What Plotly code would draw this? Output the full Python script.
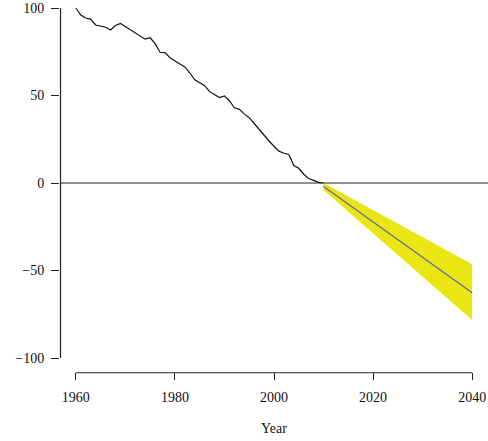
import plotly.graph_objects as go

# Historical series (1960-2010)
years = list(range(1960, 2011))
values = [100, 96, 94.3, 93.5, 90.3, 89.8, 89, 87.4, 90, 91.2,
          89.4, 87.6, 86, 84, 82.2, 83, 79.6, 74.7, 74.5, 71.6,
          70, 68, 66.3, 63, 59, 57.4, 55.6, 52.2, 50.4, 48.8,
          49.8, 47, 43, 42.1, 39.5, 37.3, 34, 30.5, 27, 24,
          21, 18.2, 17, 16.3, 10, 8.4, 5, 2.6, 1.5, 0.4, 0]

# Forecast (2010-2040)
fc_years = [2010, 2040]
fc_mean = [-2.0, -62.7]
fc_upper = [0.0, -46.5]
fc_lower = [-4.0, -78.3]

x_ticks = [1960, 1980, 2000, 2020, 2040]
y_ticks = [-100, -50, 0, 50, 100]

FONT = "Liberation Serif"
TXT = "#111111"

fig = go.Figure()
fig.add_trace(go.Scatter(x=fc_years, y=fc_lower, mode="lines",
                         line=dict(width=0, color="#E9E612"), hoverinfo="skip"))
fig.add_trace(go.Scatter(x=fc_years, y=fc_upper, mode="lines", fill="tonexty",
                         fillcolor="#E9E612",
                         line=dict(width=0, color="#E9E612"), hoverinfo="skip"))
fig.add_trace(go.Scatter(x=fc_years, y=fc_mean, mode="lines",
                         line=dict(width=1.2, color="#6565A8")))
fig.add_trace(go.Scatter(x=years, y=values, mode="lines",
                         line=dict(width=1.2, color="#111111")))

# zero reference line
fig.add_shape(type="line", xref="paper", x0=0, x1=1, yref="y", y0=0, y1=0,
              line=dict(color="#222222", width=1.2), layer="above")
# R-style axis lines spanning the tick range
fig.add_shape(type="line", xref="paper", x0=0.0012, x1=0.0012, yref="y",
              y0=min(y_ticks), y1=max(y_ticks),
              line=dict(color="#222222", width=1.2), layer="above")
fig.add_shape(type="line", xref="x", x0=min(x_ticks), x1=max(x_ticks), yref="paper",
              y0=-0.002, y1=-0.002,
              line=dict(color="#222222", width=1.2), layer="above")

fig.add_annotation(text="Year", xref="paper", x=0.5, yref="paper", y=-0.153,
                   showarrow=False, xanchor="center", yanchor="middle",
                   font=dict(family=FONT, size=14, color=TXT))

fig.update_layout(
    width=488, height=441,
    margin=dict(l=60, r=0, t=0, b=69),
    paper_bgcolor="white", plot_bgcolor="white",
    showlegend=False,
    font=dict(family=FONT, size=14, color=TXT),
    xaxis=dict(range=[1956.8, 2043.2], tickvals=x_ticks, showgrid=False,
               zeroline=False, showline=False, ticks="outside", ticklen=7,
               tickcolor="#222222", tickwidth=1.2, ticklabelstandoff=5,
               tickfont=dict(family=FONT, size=14, color=TXT)),
    yaxis=dict(range=[-108, 104.571], tickvals=y_ticks, showgrid=False,
               zeroline=False, showline=False, ticks="outside", ticklen=8,
               tickcolor="#222222", tickwidth=1.2, ticklabelstandoff=4,
               tickfont=dict(family=FONT, size=14, color=TXT)),
)

fig.write_html("out.html")
